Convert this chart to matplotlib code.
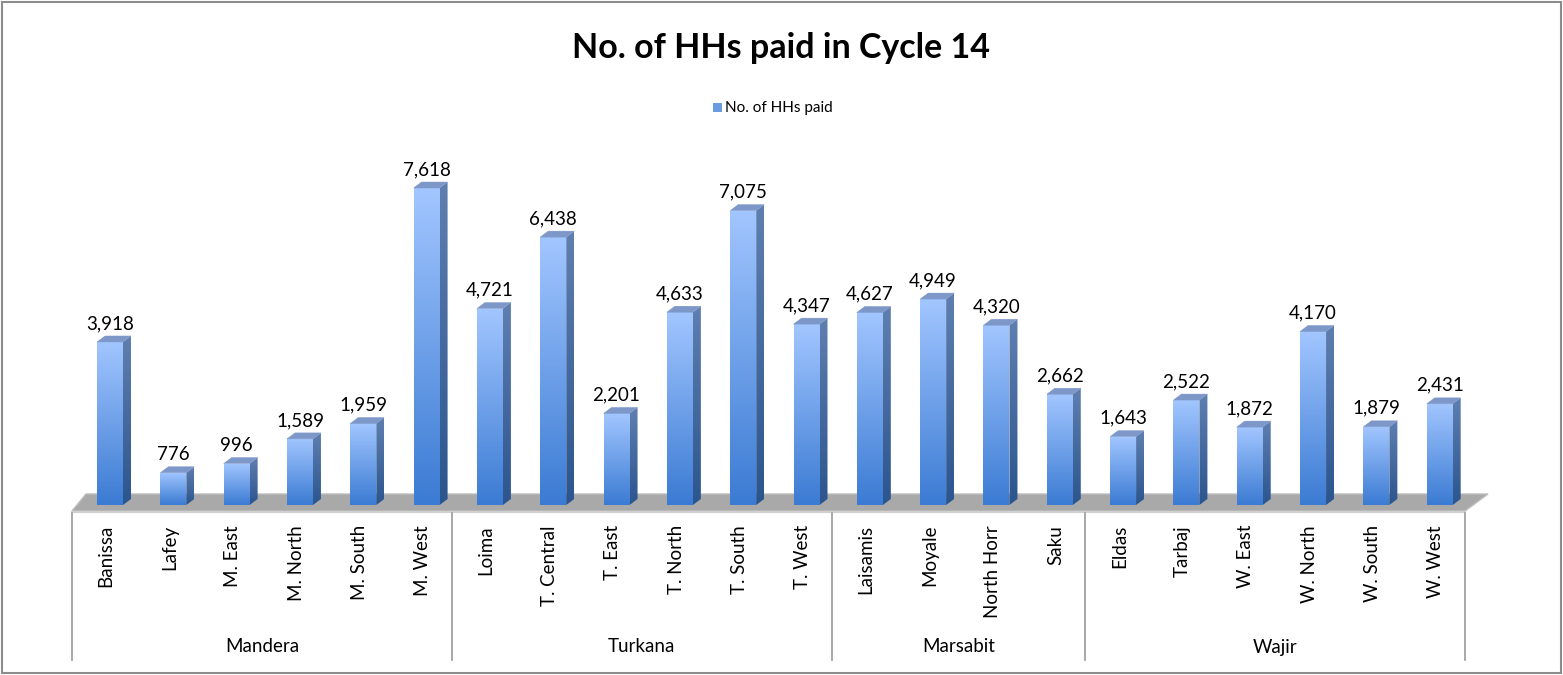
import matplotlib
matplotlib.use("Agg")
import matplotlib.pyplot as plt
import numpy as np
from matplotlib.patches import Rectangle, Polygon
from matplotlib.colors import LinearSegmentedColormap

plt.rcParams['font.family'] = ['Lato', 'DejaVu Sans']

# ---- data ----
groups = ["Mandera", "Turkana", "Marsabit", "Wajir"]
group_sizes = [6, 6, 4, 6]
categories = ["Banissa", "Lafey", "M. East", "M. North", "M. South", "M. West",
              "Loima", "T. Central", "T. East", "T. North", "T. South", "T. West",
              "Laisamis", "Moyale", "North Horr", "Saku",
              "Eldas", "Tarbaj", "W. East", "W. North", "W. South", "W. West"]
values = [3918, 776, 996, 1589, 1959, 7618,
          4721, 6438, 2201, 4633, 7075, 4347,
          4627, 4949, 4320, 2662,
          1643, 2522, 1872, 4170, 1879, 2431]
title = "No. of HHs paid in Cycle 14"
series_name = "No. of HHs paid"

# ---- layout (pixels) ----
W, H = 1563, 675
fig = plt.figure(figsize=(W / 100, H / 100), dpi=100)
n = len(categories)
ax_left_px, ax_right_px = 72, 1465
base_px = 505          # y (from top) of bar base
YMAX = 9000
ax_h_px = 374.5
ax = fig.add_axes([ax_left_px / W, (H - base_px) / H,
                   (ax_right_px - ax_left_px) / W, ax_h_px / H])
ax.set_xlim(0, n)
ax.set_ylim(0, YMAX)
ax.axis('off')

px_x = (ax_right_px - ax_left_px) / n   # pixels per category
px_y = ax_h_px / YMAX                   # pixels per value unit


def dy(px):
    return px / px_y


def dx(px):
    return px / px_x


bar_w = dx(26)
off = dx(25)           # front-face left offset from category start
side_dx = dx(8)
side_dy = dy(6)
FS = 13.5

# ---- floor ----
floor = Polygon([(0, dy(-6)), (dx(14), dy(11)), (n + dx(23), dy(11)), (n, dy(-6))],
                closed=True, facecolor='#a9a9a9', edgecolor='#bdbdbd', lw=1.0,
                clip_on=False, zorder=1)
ax.add_patch(floor)
ax.plot([0, n], [dy(-7), dy(-7)], color='#d0d0d0', lw=1.5, clip_on=False, zorder=1)

front_cmap = LinearSegmentedColormap.from_list('front', ['#3b7bd3', '#a2c6ff'])
side_cmap = LinearSegmentedColormap.from_list('side', ['#2b558e', '#5f7fb0'])
grad = np.linspace(0, 1, 256).reshape(-1, 1)

xs = np.arange(n)
bars = ax.bar(xs + off, values, width=bar_w, align='edge', color='none',
              edgecolor='none', zorder=3)
for i, (b, v) in enumerate(zip(bars, values)):
    x0 = b.get_x()
    x1 = x0 + b.get_width()
    # front face gradient
    im = ax.imshow(grad, cmap=front_cmap, origin='lower', aspect='auto',
                   extent=[x0, x1, 0, v], zorder=3)
    im.set_clip_path(b)
    # side face
    side = Polygon([(x1, 0), (x1 + side_dx, side_dy), (x1 + side_dx, v + side_dy), (x1, v)],
                   closed=True, facecolor='none', edgecolor='none', zorder=3)
    ax.add_patch(side)
    im2 = ax.imshow(grad, cmap=side_cmap, origin='lower', aspect='auto',
                    extent=[x1, x1 + side_dx, 0, v + side_dy], zorder=3)
    im2.set_clip_path(side)
    # top face
    top = Polygon([(x0, v), (x1, v), (x1 + side_dx, v + side_dy), (x0 + side_dx, v + side_dy)],
                  closed=True, facecolor='#7c97c8', edgecolor='#7c97c8', lw=0.3, zorder=4)
    ax.add_patch(top)
    # data label
    ax.text((x0 + x1) / 2, v + side_dy + dy(7), f"{v:,}", ha='center', va='baseline',
            fontsize=FS, color='black', zorder=5)
    # category label
    ax.text(i + 0.54, dy(-20), categories[i], rotation=90, ha='center', va='top',
            fontsize=FS, color='black', clip_on=False)

# ---- group separators and labels ----
line_top = dy(-8)
line_bot = dy(-155)
bounds = np.concatenate([[0], np.cumsum(group_sizes)])
for bnd in bounds:
    ax.plot([bnd, bnd], [line_top, line_bot], color='#9a9a9a', lw=1.2,
            clip_on=False, zorder=1)
for g, a, bnd2 in zip(groups, bounds[:-1], bounds[1:]):
    ax.text((a + bnd2) / 2, dy(-142), g, ha='center', va='center',
            fontsize=FS, color='black', clip_on=False)

# ---- title ----
fig.text(781 / W, 1 - 48 / H, title, ha='center', va='center',
         fontsize=24.5, fontweight='bold', color='black')

# ---- legend ----
fig.patches.append(Rectangle((713 / W, 1 - 112 / H), 9 / W, 9 / H,
                             transform=fig.transFigure, facecolor='#6a9ae0',
                             edgecolor='none'))
fig.text(725 / W, 1 - 108 / H, series_name, ha='left', va='center',
         fontsize=11, color='black')

# ---- border ----
fig.patches.append(Rectangle((2 / W, 2 / H), (W - 4) / W, (H - 4) / H,
                             transform=fig.transFigure, facecolor='none',
                             edgecolor='#8c8c8c', lw=1.5))

fig.savefig("out.png", dpi=100)
